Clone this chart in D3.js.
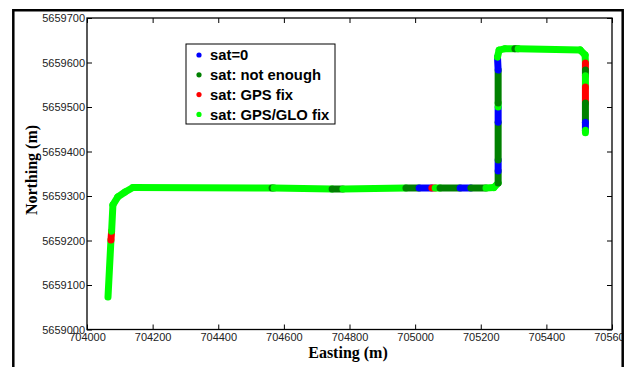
<!DOCTYPE html>
<html>
<head>
<meta charset="utf-8">
<script src="https://cdn.jsdelivr.net/npm/d3@7"></script>
<style>
  body { margin: 0; background: #fff; }
  svg { display: block; }
  .tick text { font-family: "Liberation Sans", Arial, sans-serif; font-size: 11px; fill: #222; }
</style>
</head>
<body>
<div id="chart"></div>
<script>
// track vertices, status applies to the segment starting at that vertex
const easting = [704064, 704073, 704075, 704079, 704094, 704116, 704140, 704564, 704570, 704747, 704780,
  704972, 705012, 705051, 705061, 705076, 705137, 705170, 705216, 705240, 705253, 705253, 705253, 705253,
  705253, 705253, 705253, 705251, 705256, 705274, 705304, 705314, 705503, 705518, 705519, 705519,
  705519, 705519, 705519, 705519, 705519, 705519];
const northing = [5659073, 5659201, 5659221, 5659280, 5659298, 5659309, 5659319, 5659318, 5659318, 5659316, 5659316,
  5659318, 5659318, 5659318, 5659318, 5659318, 5659318, 5659318, 5659318, 5659319, 5659329, 5659356, 5659381,
  5659466, 5659500, 5659509, 5659583, 5659612, 5659628, 5659631, 5659631, 5659631, 5659628, 5659617, 5659599,
  5659583, 5659570, 5659545, 5659509, 5659466, 5659448, 5659442];
const status = [3, 2, 3, 3, 3, 3, 3, 1, 3, 1, 3,
  1, 0, 2, 3, 1, 0, 1, 3, 3, 1, 0, 1,
  0, 3, 1, 0, 3, 3, 3, 1, 3, 3, 3, 2,
  1, 3, 2, 1, 0, 3];

const legendLabels = ["sat=0", "sat: not enough", "sat: GPS fix", "sat: GPS/GLO fix"];
const colors = ["#0000ff", "#008000", "#ff0000", "#00ff00"];
const xTicks = [704000, 704200, 704400, 704600, 704800, 705000, 705200, 705400, 705600];
const yTicks = [5659000, 5659100, 5659200, 5659300, 5659400, 5659500, 5659600, 5659700];

const W = 630, H = 367;
const margin = {left: 87, top: 18, right: 18, bottom: 37.5};
const width = W - margin.left - margin.right;
const height = H - margin.top - margin.bottom;

const svg = d3.select("#chart").append("svg")
    .attr("width", W)
    .attr("height", H);

const g = svg.append("g")
    .attr("transform", "translate(" + margin.left + "," + margin.top + ")");

const x = d3.scaleLinear().domain([704000, 705600]).range([0, width]);
const y = d3.scaleLinear().domain([5659000, 5659700]).range([height, 0]);

// axes, ticks pointing inward
g.append("g")
    .attr("transform", "translate(0," + height + ")")
    .call(d3.axisBottom(x).tickValues(xTicks).tickFormat(d3.format("d")).tickSizeInner(-5).tickSizeOuter(0).tickPadding(4));
g.append("g")
    .call(d3.axisTop(x).tickValues(xTicks).tickFormat("").tickSizeInner(-5).tickSizeOuter(0));
g.append("g")
    .call(d3.axisLeft(y).tickValues(yTicks).tickFormat(d3.format("d")).tickSizeInner(-5).tickSizeOuter(0).tickPadding(2));
g.append("g")
    .attr("transform", "translate(" + width + ",0)")
    .call(d3.axisRight(y).tickValues(yTicks).tickFormat("").tickSizeInner(-5).tickSizeOuter(0));
g.selectAll(".domain").remove();

// track
const line = d3.line().x(d => x(d[0])).y(d => y(d[1]));
const pts = easting.map((e, i) => [e, northing[i]]);
status.forEach((s, i) => {
  g.append("path")
      .attr("d", line([pts[i], pts[i + 1]]))
      .attr("fill", "none")
      .attr("stroke", colors[s])
      .attr("stroke-width", 7)
      .attr("stroke-linecap", "round");
});

// plot box
g.append("rect")
    .attr("width", width)
    .attr("height", height)
    .attr("fill", "none")
    .attr("stroke", "#000")
    .attr("stroke-width", 1.3);

// legend
const lg = svg.append("g").attr("transform", "translate(186,44)");
lg.append("rect")
    .attr("width", 149)
    .attr("height", 80)
    .attr("fill", "#fff")
    .attr("stroke", "#000")
    .attr("stroke-width", 1);
legendLabels.forEach((t, i) => {
  lg.append("circle")
      .attr("cx", 13)
      .attr("cy", 11 + i * 19.8)
      .attr("r", 2.6)
      .attr("fill", colors[i]);
  lg.append("text")
      .attr("x", 24)
      .attr("y", 11 + i * 19.8)
      .attr("dy", "0.36em")
      .attr("font-family", "Liberation Sans, Arial, sans-serif")
      .attr("font-size", 14.8)
      .attr("font-weight", "bold")
      .text(t);
});

// axis titles
svg.append("text")
    .attr("transform", "translate(37,170) rotate(-90)")
    .attr("text-anchor", "middle")
    .attr("font-family", "Liberation Serif, Times New Roman, serif")
    .attr("font-size", 16)
    .attr("font-weight", "bold")
    .text("Northing (m)");
svg.append("text")
    .attr("x", 348)
    .attr("y", 358)
    .attr("text-anchor", "middle")
    .attr("font-family", "Liberation Serif, Times New Roman, serif")
    .attr("font-size", 16)
    .attr("font-weight", "bold")
    .text("Easting (m)");

// outer figure frame (clips the last tick label)
svg.append("rect")
    .attr("x", 623.5)
    .attr("y", 0)
    .attr("width", 10)
    .attr("height", H)
    .attr("fill", "#fff");
svg.append("path")
    .attr("d", "M13.3," + H + "V10.3H622.7V" + H)
    .attr("fill", "none")
    .attr("stroke", "#000")
    .attr("stroke-width", 2.5);
</script>
</body>
</html>
